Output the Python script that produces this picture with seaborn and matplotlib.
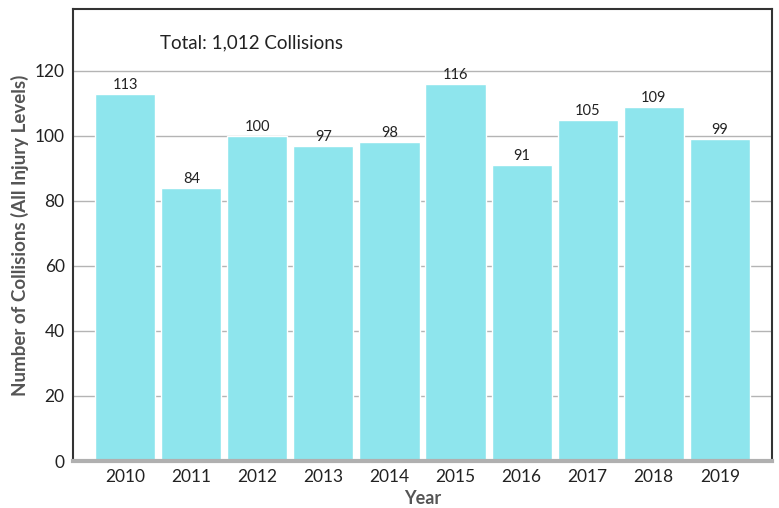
import matplotlib
matplotlib.use("Agg")
import matplotlib.pyplot as plt
import seaborn as sns
import pandas as pd

years = ["2010", "2011", "2012", "2013", "2014", "2015", "2016", "2017", "2018", "2019"]
collisions = [113, 84, 100, 97, 98, 116, 91, 105, 109, 99]
total_label = "Total: 1,012 Collisions"

sns.set_theme(style="white")
plt.rcParams["font.family"] = ["Lato", "DejaVu Sans"]

df = pd.DataFrame({"Year": years, "Collisions": collisions})

fig = plt.figure(figsize=(7.79, 5.08), dpi=100)
ax = fig.add_axes([73 / 779, (508 - 461) / 508, (772 - 73) / 779, (461 - 9) / 508])

sns.barplot(data=df, x="Year", y="Collisions", color="#8ee5ed", saturation=1,
            width=0.91, ax=ax, zorder=2)

for i, v in enumerate(collisions):
    ax.text(i, v + 0.6, str(v), ha="center", va="bottom", fontsize=10.5, color="#222222")

ax.set_ylim(0, 139)
ax.set_xlim(-0.79, 9.79)
ax.set_yticks(range(0, 121, 20))
ax.yaxis.grid(True, color="#b4b4b4", linewidth=1, zorder=0)
ax.set_axisbelow(True)

ax.tick_params(axis="both", length=0, labelsize=12.5, colors="#222222", pad=6)
ax.set_xlabel("Year", fontsize=13, fontweight="bold", color="#555555", labelpad=3)
ax.set_ylabel("Number of Collisions (All Injury Levels)", fontsize=13.5,
              fontweight="bold", color="#555555", labelpad=4)

for side in ["left", "top", "right"]:
    ax.spines[side].set_color("#333333")
    ax.spines[side].set_linewidth(1.5)
ax.spines["bottom"].set_color("#b0b0b0")
ax.spines["bottom"].set_linewidth(3)

ax.text((160 - 73) / 699, 128.6, total_label, transform=ax.get_yaxis_transform(),
        fontsize=13.5, color="#222222", va="center", ha="left")

fig.savefig("out.png", dpi=100)
